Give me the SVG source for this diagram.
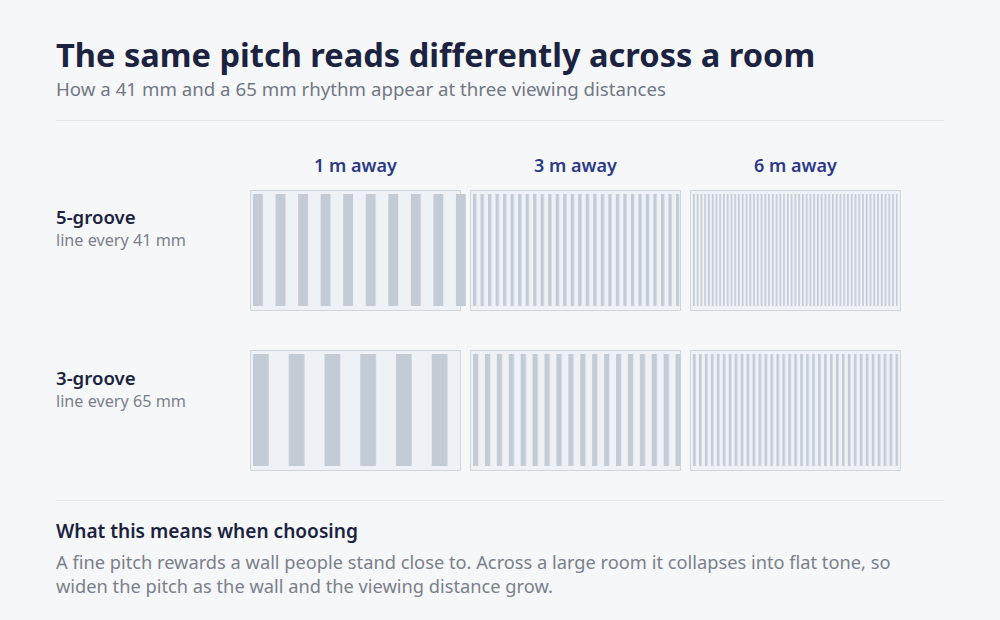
<svg xmlns="http://www.w3.org/2000/svg" width="1000" height="620" viewBox="0 0 1000 620">
<defs>
<style>
text{font-family:"Noto Sans","Open Sans","Liberation Sans",sans-serif}
.title{font-size:32.6px;font-weight:700;fill:#1b2340}
.sub{font-size:18.7px;fill:#717784}
.col{font-size:18px;font-weight:600;fill:#2c3a86;text-anchor:middle}
.rl{font-size:18.6px;font-weight:600;fill:#1b2340}
.rs{font-size:16.2px;fill:#7a808b}
.h2{font-size:19.1px;font-weight:600;fill:#1b2340}
.body{font-size:18.25px;fill:#7a808b}
.rule{stroke:#e1e5ea;stroke-width:1}
.panel{fill:#eef1f5;stroke:#cfd5dd;stroke-width:1}
.g{fill:#c3cbd4}
</style>
<pattern id="p1a" x="253" y="0" width="22.55" height="620" patternUnits="userSpaceOnUse"><rect width="9.9" height="620" class="g"/></pattern>
<pattern id="p1b" x="473" y="0" width="7.517" height="620" patternUnits="userSpaceOnUse"><rect width="3.3" height="620" class="g"/></pattern>
<pattern id="p1c" x="693" y="0" width="3.758" height="620" patternUnits="userSpaceOnUse"><rect width="1.65" height="620" class="g"/></pattern>
<pattern id="p2a" x="253" y="0" width="35.75" height="620" patternUnits="userSpaceOnUse"><rect width="15.7" height="620" class="g"/></pattern>
<pattern id="p2b" x="473" y="0" width="11.917" height="620" patternUnits="userSpaceOnUse"><rect width="5.24" height="620" class="g"/></pattern>
<pattern id="p2c" x="693" y="0" width="5.958" height="620" patternUnits="userSpaceOnUse"><rect width="2.62" height="620" class="g"/></pattern>
</defs>
<rect width="1000" height="620" fill="#f6f7f9"/>
<g id="header">
<text class="title" x="56" y="67">The same pitch reads differently across a room</text>
<text class="sub" x="56" y="95.5">How a 41 mm and a 65 mm rhythm appear at three viewing distances</text>
<line class="rule" x1="56" y1="120.5" x2="944" y2="120.5"/>
</g>
<g id="columns">
<text class="col" x="355.5" y="172">1 m away</text>
<text class="col" x="575.5" y="172">3 m away</text>
<text class="col" x="795.5" y="172">6 m away</text>
</g>
<g id="row-5groove">
<text class="rl" x="56" y="223.5">5-groove</text>
<text class="rs" x="56" y="245.5">line every 41 mm</text>
<rect class="panel" x="250.5" y="190.5" width="210" height="120"/>
<rect fill="url(#p1a)" x="253" y="194" width="213" height="112"/>
<rect class="panel" x="470.5" y="190.5" width="210" height="120"/>
<rect fill="url(#p1b)" x="473" y="194" width="206.5" height="112"/>
<rect class="panel" x="690.5" y="190.5" width="210" height="120"/>
<rect fill="url(#p1c)" x="693" y="194" width="204.7" height="112"/>
</g>
<g id="row-3groove">
<text class="rl" x="56" y="384.5">3-groove</text>
<text class="rs" x="56" y="406.5">line every 65 mm</text>
<rect class="panel" x="250.5" y="350.5" width="210" height="120"/>
<rect fill="url(#p2a)" x="253" y="354" width="195" height="112"/>
<rect class="panel" x="470.5" y="350.5" width="210" height="120"/>
<rect fill="url(#p2b)" x="473" y="354" width="208" height="112"/>
<rect class="panel" x="690.5" y="350.5" width="210" height="120"/>
<rect fill="url(#p2c)" x="693" y="354" width="205.2" height="112"/>
</g>
<g id="notes">
<line class="rule" x1="56" y1="500.5" x2="944" y2="500.5"/>
<text class="h2" x="56" y="537.5">What this means when choosing</text>
<text class="body" x="56" y="568.5">A fine pitch rewards a wall people stand close to. Across a large room it collapses into flat tone, so</text>
<text class="body" x="56" y="592.5">widen the pitch as the wall and the viewing distance grow.</text>
</g>
</svg>
